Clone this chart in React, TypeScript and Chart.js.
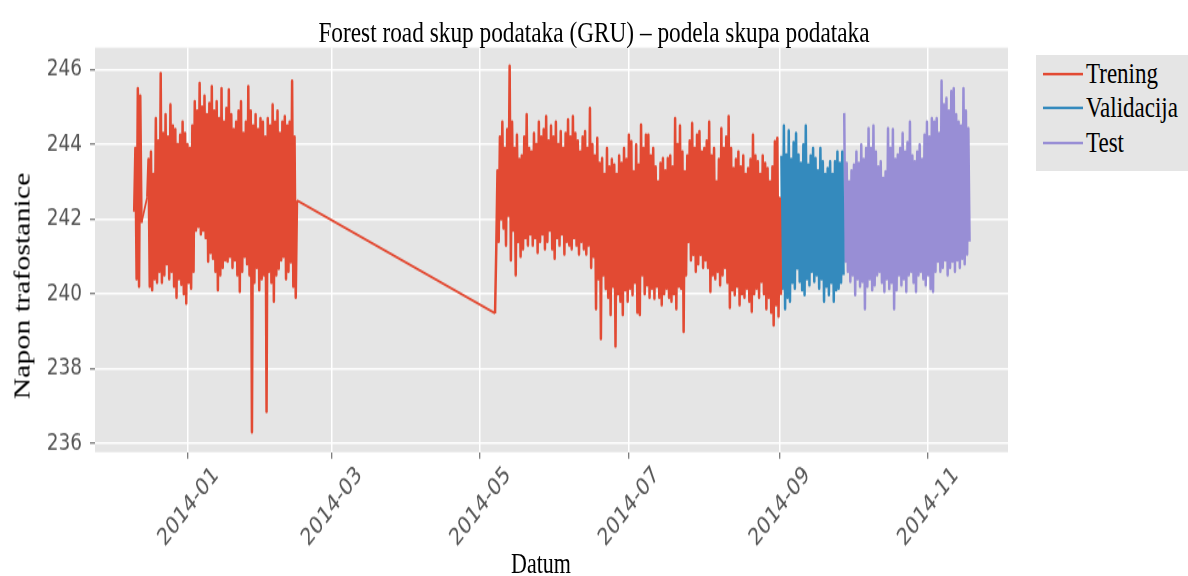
import { useEffect, useRef } from 'react';
import { Chart, registerables } from 'chart.js';

Chart.register(...registerables);

// ---- figure geometry (the reference is vertically stretched) ----
const STRETCH = 576 / 443;
const BASE_H = 443;

// ---- axis data ----
const xTickDays = [0, 59, 120, 181, 243, 304]; // days after 2014-01-01
const xTickLabels = ['2014-01', '2014-03', '2014-05', '2014-07', '2014-09', '2014-11'];
const yTickValues = [236, 238, 240, 242, 244, 246];
const X_MIN = -38.2;
const X_MAX = 337;
const Y_MIN = 235.76;
const Y_MAX = 246.59;

// ---- series (days after 2014-01-01, one value every half day) ----
const STEP_DAYS = 0.5;
const seriesNames = ['Trening', 'Validacija', 'Test'];
const seriesColors = ['#E24A33', '#348ABD', '#988ED5'];

const trainSegmentStarts = [-22.1, -16.7, 126.2];

const trainDec2013 = [242.2, 243.9, 240.4, 245.5, 240.2, 245.3, 241.9];

const trainDecFeb = [
  242.6,
  243.6, 240.2, 243.8, 240.1, 243.2, 240.4, 244.7, 240.3, 244.1, 240.6,
  245.9, 240.3, 244.3, 240.5, 244.8, 240.8, 244.2, 240.4, 245.06, 240.6,
  244.5, 240.2, 244.4, 239.9, 244.0, 240.4, 244.25, 240.25, 244.6, 240.0,
  244.3, 239.75, 244.0, 240.3, 243.9, 240.15, 244.5, 240.6, 245.15, 241.7,
  244.9, 241.8, 245.64, 241.6, 245.0, 241.7, 245.3, 241.5, 244.8, 240.87,
  245.1, 241.1, 245.55, 240.95, 244.9, 240.6, 245.15, 240.1, 244.7, 240.5,
  245.5, 240.7, 244.6, 240.9, 244.97, 240.87, 245.46, 241.0, 244.8, 240.7,
  244.4, 240.9, 244.6, 240.5, 244.9, 240.06, 245.15, 240.6, 244.3, 241.0,
  244.6, 240.8, 245.55, 240.5, 244.9, 236.3, 244.5, 240.3, 244.8, 240.7,
  244.4, 240.1, 244.7, 240.4, 244.6, 240.5, 244.2, 236.85, 244.7, 240.6,
  244.5, 240.3, 245.06, 239.8, 244.6, 240.5, 244.9, 240.68, 244.3, 240.9,
  244.6, 241.0, 244.75, 240.4, 244.5, 240.6, 244.6, 240.85, 245.7, 240.2,
  244.2, 239.9,
  242.5,
];

const trainMaySep = [
  239.48, 241.2, 243.3, 241.4, 244.2, 242.0, 244.6, 241.76, 243.9, 241.3,
  244.4, 242.1, 246.1, 240.9,
  244.6, 241.7, 243.9, 240.5, 244.25, 241.4, 243.6, 241.0, 243.7, 241.2,
  244.2, 241.5, 244.8, 241.3, 243.9, 241.6, 243.8, 241.3, 244.3, 241.5,
  244.0, 241.1, 244.6, 241.4, 244.2, 241.6, 244.4, 241.2, 244.75, 241.4,
  244.1, 241.7, 244.5, 241.2, 244.2, 240.95, 244.6, 241.5, 244.0, 241.3,
  244.35, 241.6, 243.9, 241.06, 244.3, 241.4, 244.66, 241.3, 244.2, 241.2,
  244.75, 241.5, 244.3, 241.3, 244.1, 241.06, 243.8, 241.4, 244.2, 241.2,
  244.35, 241.06, 243.9, 241.3, 244.97, 240.7, 244.0, 241.0, 243.7, 239.6,
  244.17, 240.4, 243.5, 238.8, 243.63, 240.5, 243.2, 240.14, 243.9, 239.9,
  243.4, 239.44, 243.6, 240.2, 243.45, 238.6, 243.2, 240.0, 243.7, 239.8,
  243.5, 239.44, 243.9, 240.1, 243.6, 239.8, 244.25, 240.15, 244.08, 239.97,
  243.27, 240.3, 243.99, 239.5, 243.45, 239.44, 244.52, 240.5, 243.9, 240.0,
  244.25, 240.23, 244.25, 239.9, 243.7, 240.15, 243.9, 239.88, 243.4, 240.2,
  243.0, 239.9, 243.5, 239.7, 243.63, 240.0, 243.3, 240.15, 243.63, 239.9,
  243.7, 239.8, 243.4, 240.0, 244.7, 239.6, 244.0, 240.2, 244.5, 240.15,
  243.8, 238.99, 243.27, 240.5, 243.7, 241.4, 244.1, 240.9, 244.57, 241.05,
  243.9, 240.6, 244.25, 240.8, 244.35, 241.05, 243.8, 240.7, 243.9, 240.9,
  244.1, 240.7, 244.6, 240.06, 243.7, 240.5, 243.9, 240.4, 243.0, 240.6,
  243.6, 240.23, 244.43, 240.5, 243.9, 240.7, 244.2, 240.3, 244.75, 239.63,
  243.9, 240.1, 243.36, 239.97, 243.6, 240.2, 243.8, 239.7, 243.4, 240.0,
  243.7, 239.9, 243.2, 240.15, 243.36, 239.8, 243.6, 239.53, 244.25, 240.0,
  243.7, 240.15, 243.54, 239.9, 243.2, 240.33, 243.7, 240.0, 243.5, 239.6,
  243.36, 239.9, 243.0, 239.5, 243.4, 239.16, 244.08, 239.7, 244.17, 239.4,
  242.56, 239.97,
];

const validationStart = 243.9;
const validationValues = [
  243.7, 240.15, 244.5, 239.6, 243.72, 239.9, 244.37, 239.8, 243.6, 240.3,
  244.05, 240.15, 244.3, 240.69, 243.72, 240.33, 243.5, 240.1, 243.99, 239.97,
  244.5, 240.4, 243.45, 240.23, 243.7, 240.6, 243.9, 240.33, 243.63, 240.5,
  243.3, 240.15, 243.9, 240.4, 243.54, 239.8, 243.2, 240.2, 243.36, 239.97,
  243.54, 240.3, 243.2, 239.8, 243.54, 240.1, 243.8, 240.15, 243.5, 240.3,
  243.8, 240.5,
];

const testStart = 269.7;
const testValues = [
  244.84, 240.87, 243.5, 240.6, 243.0, 240.33, 243.3, 240.5, 243.45, 239.97,
  243.8, 240.4, 243.5, 240.2, 243.99, 240.33, 243.6, 239.6, 243.9, 240.2,
  244.43, 240.4, 243.9, 240.1, 244.5, 240.23, 243.8, 240.5, 243.4, 240.6,
  243.54, 240.3, 243.1, 240.06, 243.27, 240.4, 244.43, 240.14, 243.9, 240.3,
  244.4, 239.6, 243.6, 240.1, 243.72, 240.5, 243.9, 240.23, 244.3, 240.4,
  243.8, 240.06, 244.05, 240.5, 244.6, 240.6, 243.7, 240.3, 243.54, 240.06,
  243.8, 240.5, 243.99, 240.6, 243.6, 240.4, 244.25, 240.23, 244.6, 240.5,
  244.2, 240.14, 244.7, 240.06, 244.6, 240.6, 244.7, 240.87, 244.3, 240.6,
  245.7, 240.7, 245.06, 240.9, 245.24, 240.5, 244.9, 240.7, 245.42, 240.87,
  245.5, 240.6, 244.8, 240.9, 244.6, 240.7, 244.5, 240.95, 245.5, 240.8,
  244.9, 241.06, 244.43, 241.4,
];

type Pt = { x: number; y: number };

function buildPoints(starts: number[], parts: number[][]): Pt[] {
  const pts: Pt[] = [];
  parts.forEach((vals, p) => {
    vals.forEach((v, i) => pts.push({ x: starts[p] + i * STEP_DAYS, y: v }));
  });
  return pts;
}

const PLOT_BG = '#E5E5E5';
const TICK_COLOR = '#555555';
const SERIF = "'Liberation Serif', 'Times New Roman', serif";
const TICK_FONT = { family: "'DejaVu Sans', sans-serif", size: 18.5 };
const DENSE_WIDTH = 2.5;
const GAP_WIDTH = 1.8;

export default function App() {
  const canvasRef = useRef<HTMLCanvasElement | null>(null);

  useEffect(() => {
    const canvas = canvasRef.current;
    if (!canvas) return;

    const bgPlugin = {
      id: 'plotBackground',
      beforeDraw(chart: any) {
        const { ctx, chartArea: a } = chart;
        ctx.save();
        ctx.fillStyle = PLOT_BG;
        ctx.fillRect(a.left, a.top, a.right - a.left, a.bottom - a.top);
        ctx.restore();
      },
    };

    const lineStyle = (i: number) => ({
      label: seriesNames[i],
      borderColor: seriesColors[i],
      backgroundColor: seriesColors[i],
      borderWidth: DENSE_WIDTH,
      borderJoinStyle: 'round' as const,
      pointRadius: 0,
      tension: 0,
      fill: false,
      segment: {
        borderWidth: (c: any) => (c.p1.parsed.x - c.p0.parsed.x > 1.5 ? GAP_WIDTH : DENSE_WIDTH),
      },
    });

    const chart = new Chart(canvas, {
      type: 'line',
      data: {
        datasets: [
          { ...lineStyle(0), data: buildPoints(trainSegmentStarts, [trainDec2013, trainDecFeb, trainMaySep]) },
          { ...lineStyle(1), data: buildPoints([validationStart], [validationValues]) },
          { ...lineStyle(2), data: buildPoints([testStart], [testValues]) },
        ],
      },
      options: {
        animation: false,
        responsive: true,
        maintainAspectRatio: false,
        parsing: false,
        normalized: true,
        events: [],
        layout: { padding: { left: 0, right: 180, top: 36.6, bottom: 0 } },
        plugins: {
          legend: { display: false },
          title: { display: false },
          tooltip: { enabled: false },
        },
        scales: {
          x: {
            type: 'linear',
            min: X_MIN,
            max: X_MAX,
            afterBuildTicks: (s: any) => {
              s.ticks = xTickDays.map((v) => ({ value: v }));
            },
            afterFit: (s: any) => {
              s.height = BASE_H - 347.8;
            },
            ticks: {
              autoSkip: false,
              minRotation: 45,
              maxRotation: 45,
              labelOffset: 28,
              padding: 2,
              color: TICK_COLOR,
              font: TICK_FONT,
              callback: (_v: any, i: number) => xTickLabels[i],
            },
            grid: { color: '#FFFFFF', lineWidth: 1.5, tickColor: TICK_COLOR, tickLength: 5, tickWidth: 1 },
            border: { display: false },
          },
          y: {
            type: 'linear',
            min: Y_MIN,
            max: Y_MAX,
            afterBuildTicks: (s: any) => {
              s.ticks = yTickValues.map((v) => ({ value: v }));
            },
            afterFit: (s: any) => {
              s.width = 95;
            },
            ticks: {
              padding: 8,
              color: TICK_COLOR,
              font: TICK_FONT,
              callback: (v: any) => String(v),
            },
            grid: { color: '#FFFFFF', lineWidth: 1.5, tickColor: TICK_COLOR, tickLength: 5, tickWidth: 1 },
            border: { display: false },
          },
        },
      },
      plugins: [bgPlugin],
    });

    return () => chart.destroy();
  }, []);

  return (
    <div style={{ position: 'fixed', left: 0, top: 0, width: 1188, height: 576, overflow: 'hidden', background: '#fff' }}>
      <div
        style={{
          position: 'absolute',
          left: 0,
          top: 0,
          width: 1188,
          height: BASE_H,
          transform: `scaleY(${STRETCH})`,
          transformOrigin: '0 0',
        }}
      >
        <canvas ref={canvasRef} />
        <div
          style={{
            position: 'absolute',
            left: 0,
            width: 1188,
            top: 13,
            textAlign: 'center',
            fontFamily: SERIF,
            fontSize: 23.3,
            lineHeight: '23px',
            color: '#000',
            whiteSpace: 'nowrap',
          }}
        >
          Forest road skup podataka (GRU) – podela skupa podataka
        </div>
        <div
          style={{
            position: 'absolute',
            left: 22,
            top: 220,
            transform: 'translate(-50%, -50%) rotate(-90deg)',
            fontFamily: SERIF,
            fontSize: 23,
            lineHeight: '23px',
            color: '#000',
            whiteSpace: 'nowrap',
          }}
        >
          Napon trafostanice
        </div>
        <div
          style={{
            position: 'absolute',
            left: 541,
            top: 434,
            transform: 'translate(-50%, -50%)',
            fontFamily: SERIF,
            fontSize: 22,
            lineHeight: '22px',
            color: '#000',
            whiteSpace: 'nowrap',
          }}
        >
          Datum
        </div>
        <div
          style={{
            position: 'absolute',
            left: 1036,
            top: 41.5,
            width: 160,
            height: 89.5,
            background: PLOT_BG,
          }}
        >
          {seriesNames.map((name, i) => (
            <div
              key={name}
              style={{ position: 'absolute', left: 0, top: 15 + i * 26.5, height: 0 }}
            >
              <div
                style={{
                  position: 'absolute',
                  left: 7,
                  top: -1,
                  width: 40,
                  height: 2,
                  background: seriesColors[i],
                }}
              />
              <div
                style={{
                  position: 'absolute',
                  left: 50,
                  top: -12,
                  fontFamily: SERIF,
                  fontSize: 23,
                  lineHeight: '23px',
                  color: '#000',
                  whiteSpace: 'nowrap',
                }}
              >
                {name}
              </div>
            </div>
          ))}
        </div>
      </div>
    </div>
  );
}
